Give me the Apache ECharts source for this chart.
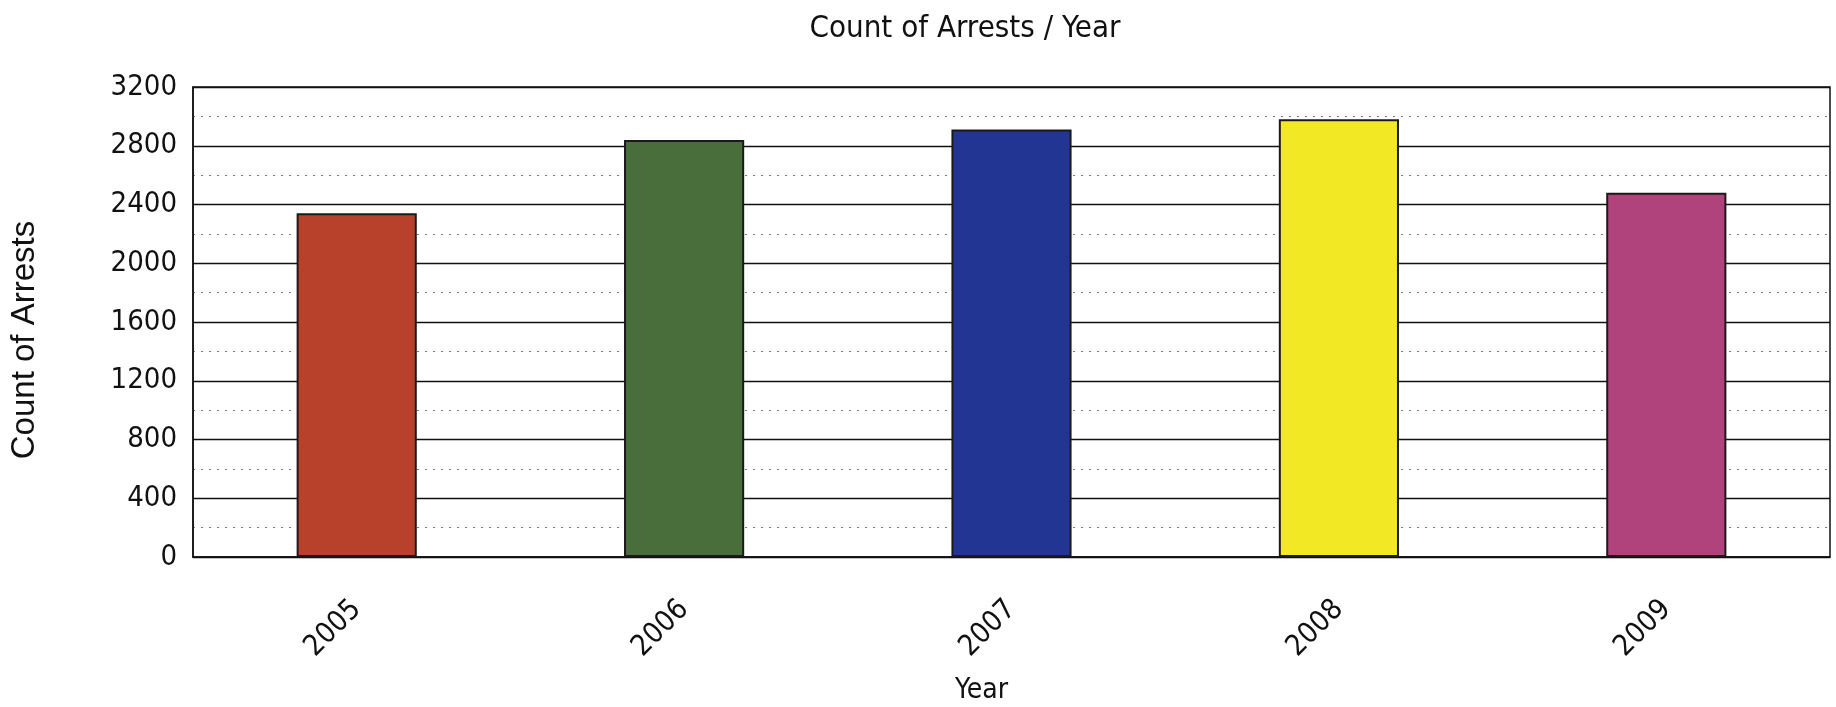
<!DOCTYPE html>
<html>
<head>
<meta charset="utf-8">
<script src="https://cdn.jsdelivr.net/npm/echarts@6/dist/echarts.min.js"></script>
<style>html,body{margin:0;padding:0;background:#fff;}#c{width:1836px;height:707px;}</style>
</head>
<body>
<div id="c"></div>
<script>
const categories = ['2005', '2006', '2007', '2008', '2009'];
const arrests = [2340, 2840, 2910, 2980, 2480];
const barColors = ['#b8412b', '#4a6e3b', '#233592', '#f3e824', '#b0437b'];
const yTicks = [0, 400, 800, 1200, 1600, 2000, 2400, 2800, 3200];

const narrow = '"Liberation Sans Narrow", "DejaVu Sans Condensed", "Liberation Sans", sans-serif';
const chart = echarts.init(document.getElementById('c'));
chart.setOption({
  backgroundColor: '#ffffff',
  animation: false,
  title: {
    text: 'Count of Arrests / Year',
    left: 960, top: 8, textAlign: 'center',
    textStyle: { fontFamily: narrow, fontSize: 31, fontWeight: 'normal', color: '#111' }
  },
  grid: { left: 193, right: 6, top: 87, bottom: 150, containLabel: false, outerBoundsMode: 'none', show: true, borderColor: '#111', borderWidth: 1.5 },
  xAxis: {
    type: 'category',
    data: categories,
    name: 'Year',
    nameLocation: 'middle',
    nameGap: 120,
    nameTextStyle: { fontFamily: narrow, fontSize: 28, color: '#111', padding: [0, 0, 0, -60] },
    axisLine: { lineStyle: { color: '#111', width: 1.5 } },
    axisTick: { show: false },
    axisLabel: { rotate: 45, margin: 48, fontFamily: narrow, fontSize: 29, color: '#111' }
  },
  yAxis: {
    type: 'value',
    min: yTicks[0], max: yTicks[yTicks.length - 1], interval: 400,
    name: 'Count of Arrests',
    nameLocation: 'middle',
    nameGap: 152,
    nameTextStyle: { fontFamily: '"Liberation Sans", Arial, sans-serif', fontSize: 33, color: '#111', padding: [0, 36, 0, 0] },
    axisLine: { show: true, lineStyle: { color: '#111', width: 1.5 } },
    axisTick: { show: false },
    axisLabel: { margin: 16, fontFamily: narrow, fontSize: 29, color: '#111', formatter: v => String(v) },
    splitLine: { lineStyle: { color: '#111', width: 1.3 } },
    minorTick: { show: false, splitNumber: 2 },
    minorSplitLine: { show: true, lineStyle: { color: '#777', type: [2, 6], width: 1.2 } }
  },
  series: [{
    type: 'bar',
    data: arrests.map((v, i) => ({ value: v, itemStyle: { color: barColors[i] } })),
    barWidth: '36.7%',
    itemStyle: { borderColor: '#1a1a1a', borderWidth: 2 }
  }]
});
</script>
</body>
</html>
